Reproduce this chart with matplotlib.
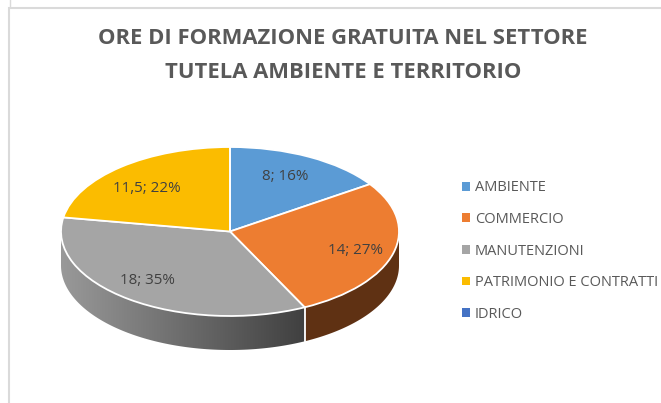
import matplotlib
matplotlib.use('Agg')
import matplotlib.pyplot as plt
import numpy as np
from matplotlib.patches import Polygon

W, H = 661, 403

# data
categories = ['AMBIENTE', 'COMMERCIO', 'MANUTENZIONI', 'PATRIMONIO E CONTRATTI', 'IDRICO']
values = [8, 14, 18, 11.5, 0]
value_text = ['8', '14', '18', '11,5']
percent_text = ['16%', '27%', '35%', '22%']
colors = ['#5B9BD5', '#ED7D31', '#A5A5A5', '#FBBC00', '#4472C4']
title_lines = ['ORE DI FORMAZIONE GRATUITA NEL SETTORE', 'TUTELA AMBIENTE E TERRITORIO']

plt.rcParams['font.family'] = ['Open Sans', 'DejaVu Sans']
text_color = '#595959'

fig = plt.figure(figsize=(W / 100, H / 100), dpi=100, facecolor='white')

# overlay in pixel coords, for the frame and the texts
over = fig.add_axes([0, 0, 1, 1], zorder=3)
over.set_xlim(0, W)
over.set_ylim(H, 0)
over.axis('off')
over.plot([8.5, 8.5, W], [H, 7.5, 7.5], color='#DADADA', lw=1.5, solid_joinstyle='miter')
over.plot([10, 10], [0, 6], color='#DADADA', lw=1)

over.text(343, 38, title_lines[0], ha='center', va='center', fontsize=15.85,
          fontweight='bold', color=text_color)
over.text(343, 72, title_lines[1], ha='center', va='center', fontsize=15.85,
          fontweight='bold', color=text_color)

# pie axes, radius 1 maps to 169 x 84.5 px around (230, 231.5)
cx, cy, rx, ry = 230, 231.5, 169, 84.5
lim = 1.6
ax = fig.add_axes([(cx - lim * rx) / W, 1 - (cy + lim * ry) / H, 2 * lim * rx / W, 2 * lim * ry / H],
                  zorder=2)
wedges, _ = ax.pie(values, colors=colors, startangle=90, counterclock=False, radius=1,
                   wedgeprops=dict(edgecolor='white', linewidth=1.3))
ax.set_aspect('auto')

# side of the disc
depth = 34 / ry
total = sum(values)
cut = 90 - 360 * (values[0] + values[1]) / total


def side_poly(a0, a1):
    t = np.radians(np.linspace(a0, a1, 120))
    x, y = np.cos(t), np.sin(t)
    return np.r_[np.c_[x, y], np.c_[x, y - depth][::-1]]


ax.add_patch(Polygon(side_poly(0, cut), closed=True, facecolor='#5F3113', edgecolor='none', zorder=0))

grey_clip = Polygon(side_poly(cut, -180), closed=True, facecolor='none', edgecolor='none',
                    transform=ax.transData)
ax.add_patch(grey_clip)
x_end = np.cos(np.radians(cut))
grad = np.linspace(0, 1, 256).reshape(1, -1)
cmap = matplotlib.colors.LinearSegmentedColormap.from_list('side', ['#999999', '#404040'])
im = ax.imshow(grad, extent=(-1, x_end, -1 - depth, 0.2), aspect='auto', cmap=cmap, zorder=0)
im.set_clip_path(grey_clip)
ax.plot([x_end, x_end], [np.sin(np.radians(cut)), np.sin(np.radians(cut)) - depth],
        color='white', lw=1.3, zorder=1)
ax.set_xlim(-lim, lim)
ax.set_ylim(-lim, lim)

# data labels
label_xy = [(285, 176), (355, 250), (147, 281), (147, 188)]
for (lx, ly), v, p in zip(label_xy, value_text, percent_text):
    over.text(lx, ly, f'{v}; {p}', ha='center', va='center', fontsize=10.9, color='#404040')

leg = over.legend(wedges, categories, loc='upper left', bbox_to_anchor=(458 / W, 1 - 176 / H),
                  frameon=False, fontsize=10.5, labelcolor=text_color, handlelength=0.55,
                  handleheight=0.55, handletextpad=0.3, labelspacing=1.14, borderpad=0.3,
                  borderaxespad=0)
for h in leg.legend_handles:
    h.set_edgecolor('none')

fig.savefig('out.png', dpi=100)
